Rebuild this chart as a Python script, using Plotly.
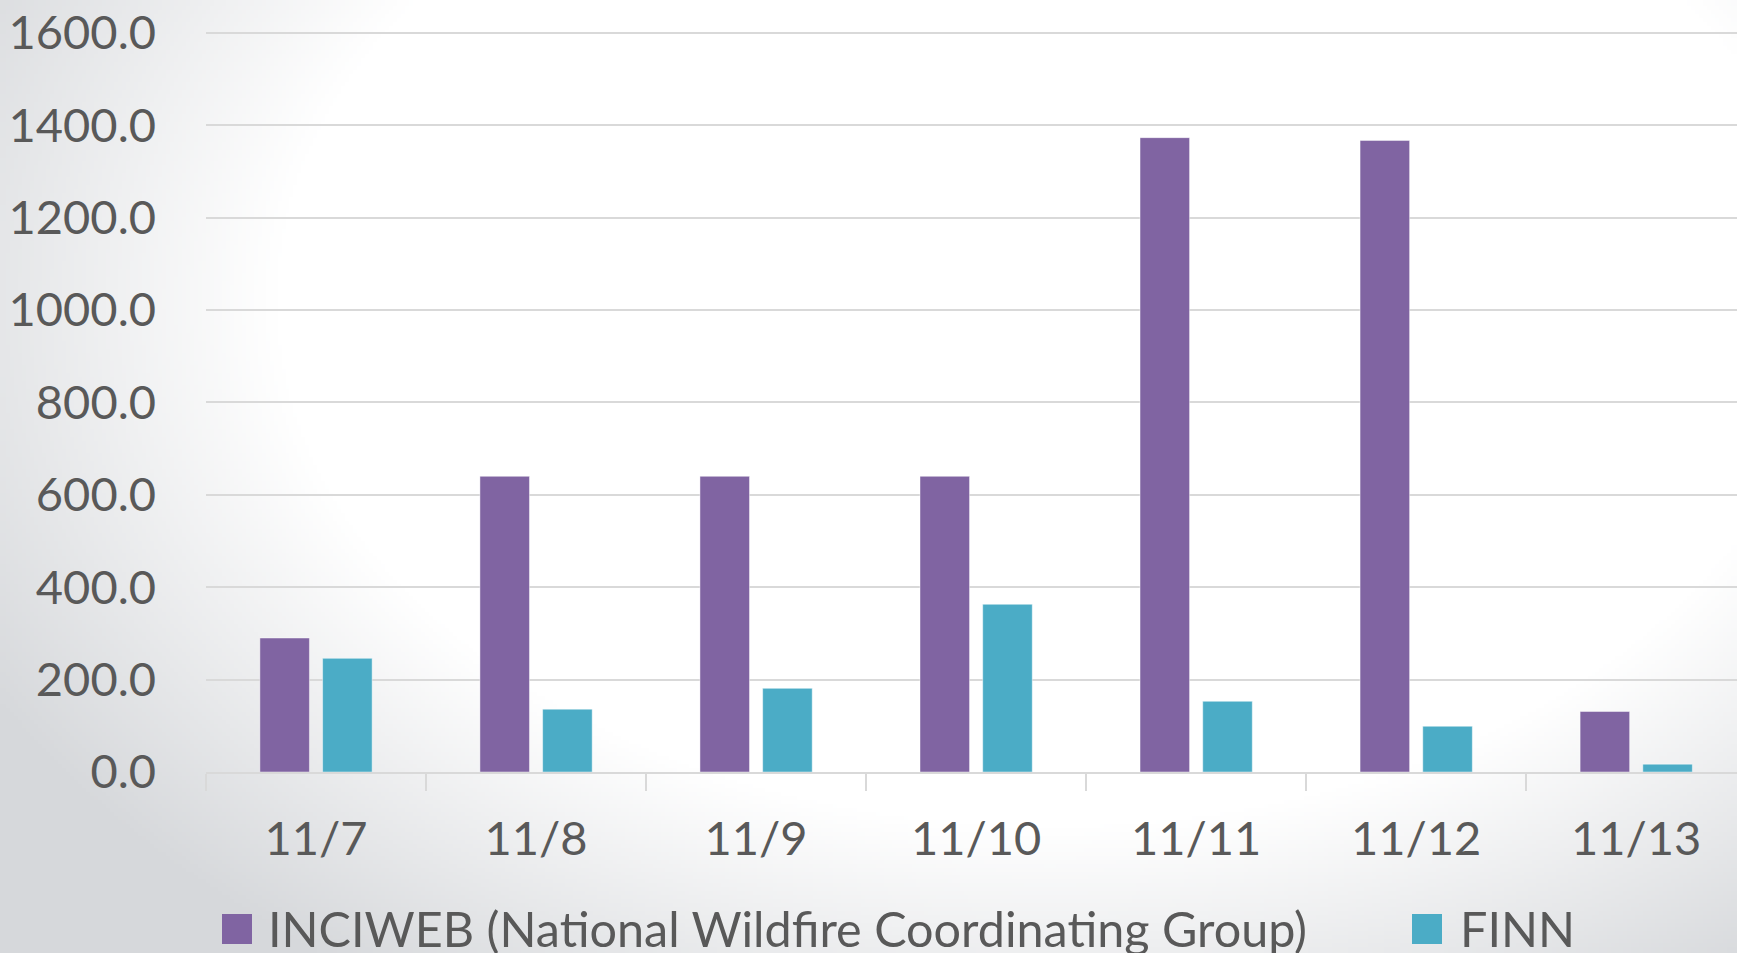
import base64
import struct
import zlib

import numpy as np
import plotly.graph_objects as go

# ---- data -------------------------------------------------------------
dates = ["11/7", "11/8", "11/9", "11/10", "11/11", "11/12", "11/13"]
inciweb = [290, 640, 640, 640, 1373, 1367, 131]
finn = [246, 136, 181, 363, 153, 99, 17]
series_names = ["INCIWEB (National Wildfire Coordinating Group)", "FINN"]
series_colors = ["#8064A2", "#4BACC6"]
y_ticks = [0, 200, 400, 600, 800, 1000, 1200, 1400, 1600]

# ---- page geometry ----------------------------------------------------
W, H = 1737, 953
M_L, M_R, M_T, M_B = 206, 0, 30, 181
PLOT_W = W - M_L - M_R
PLOT_H = H - M_T - M_B

TEXT = "#595959"
GRID = "#d9d9d9"
FONT = "Lato"
FSIZE = 47


def to_paper(x, y):
    """Pixel position on the page -> paper coordinates."""
    return (x - M_L) / PLOT_W, (H - M_B - y) / PLOT_H


def backdrop_png(w, h):
    """Soft radial backdrop: white in the middle, cool grey towards the edges."""
    xs = (np.arange(w) + 0.5) / w * W
    ys = (np.arange(h) + 0.5) / h * H
    X, Y = np.meshgrid(xs, ys)
    d = np.sqrt(((X - 1050) / 1100) ** 2 + ((Y - 300) / 750) ** 2)
    t = np.clip((d - 0.7) / 0.4, 0, 1)
    edge = np.array([214, 216, 219], dtype=float)
    img = (255 - t[..., None] * (255 - edge)).round().astype(np.uint8)
    raw = b"".join(b"\x00" + img[r].tobytes() for r in range(h))

    def chunk(tag, data):
        body = tag + data
        return (struct.pack(">I", len(data)) + body
                + struct.pack(">I", zlib.crc32(body) & 0xFFFFFFFF))

    png = (b"\x89PNG\r\n\x1a\n"
           + chunk(b"IHDR", struct.pack(">IIBBBBB", w, h, 8, 2, 0, 0, 0))
           + chunk(b"IDAT", zlib.compress(raw, 9))
           + chunk(b"IEND", b""))
    return "data:image/png;base64," + base64.b64encode(png).decode()


fig = go.Figure()
for name, vals, col in zip(series_names, [inciweb, finn], series_colors):
    fig.add_trace(go.Bar(
        x=dates, y=vals, name=name, showlegend=False,
        marker=dict(color=col, line=dict(color="rgba(255,255,255,0.45)", width=1)),
    ))

# ---- hand-built legend (large square swatches) ------------------------
legend_items = [(222, 266), (1412, 1458)]   # swatch left, text left (px)
sw_top, sw_size = 914, 30
shapes = []
annotations = []
for (sx, tx), name, col in zip(legend_items, series_names, series_colors):
    x0, y0 = to_paper(sx, sw_top + sw_size)
    x1, y1 = to_paper(sx + sw_size, sw_top)
    shapes.append(dict(type="rect", xref="paper", yref="paper",
                       x0=x0, x1=x1, y0=y0, y1=y1,
                       fillcolor=col, line=dict(width=0), layer="above"))
    ax, ay = to_paper(tx, 928)
    annotations.append(dict(xref="paper", yref="paper", x=ax, y=ay,
                            xanchor="left", yanchor="middle", showarrow=False,
                            text=name, font=dict(family=FONT, size=48.5, color=TEXT)))

bx0, by0 = to_paper(0, 0)
fig.update_layout(
    width=W, height=H,
    margin=dict(l=M_L, r=M_R, t=M_T, b=M_B, pad=0),
    paper_bgcolor="white",
    plot_bgcolor="rgba(0,0,0,0)",
    barmode="group", bargap=0.43, bargroupgap=0.21,
    font=dict(family=FONT, size=FSIZE, color=TEXT),
    images=[dict(source=backdrop_png(435, 239), xref="paper", yref="paper",
                 x=bx0, y=by0, sizex=W / PLOT_W, sizey=H / PLOT_H,
                 xanchor="left", yanchor="top", sizing="stretch", layer="below")],
    shapes=shapes,
    annotations=annotations,
    xaxis=dict(
        type="category", range=[-0.5, 6.458],
        showgrid=False, zeroline=False,
        showline=True, linecolor=GRID, linewidth=1.5,
        ticks="outside", tickson="boundaries", ticklen=17,
        tickcolor=GRID, tickwidth=1.5,
        tickfont=dict(family=FONT, size=FSIZE, color=TEXT),
        ticklabelstandoff=25,
    ),
    yaxis=dict(
        # a little headroom above 1600 so the top gridline is drawn
        range=[0, 1606], tickvals=y_ticks, tickformat=".1f",
        showgrid=True, gridcolor=GRID, gridwidth=1.5,
        zeroline=False, showline=False, ticks="",
        tickfont=dict(family=FONT, size=FSIZE, color=TEXT),
        ticklabelstandoff=49,
    ),
)

fig.write_html("out.html")
